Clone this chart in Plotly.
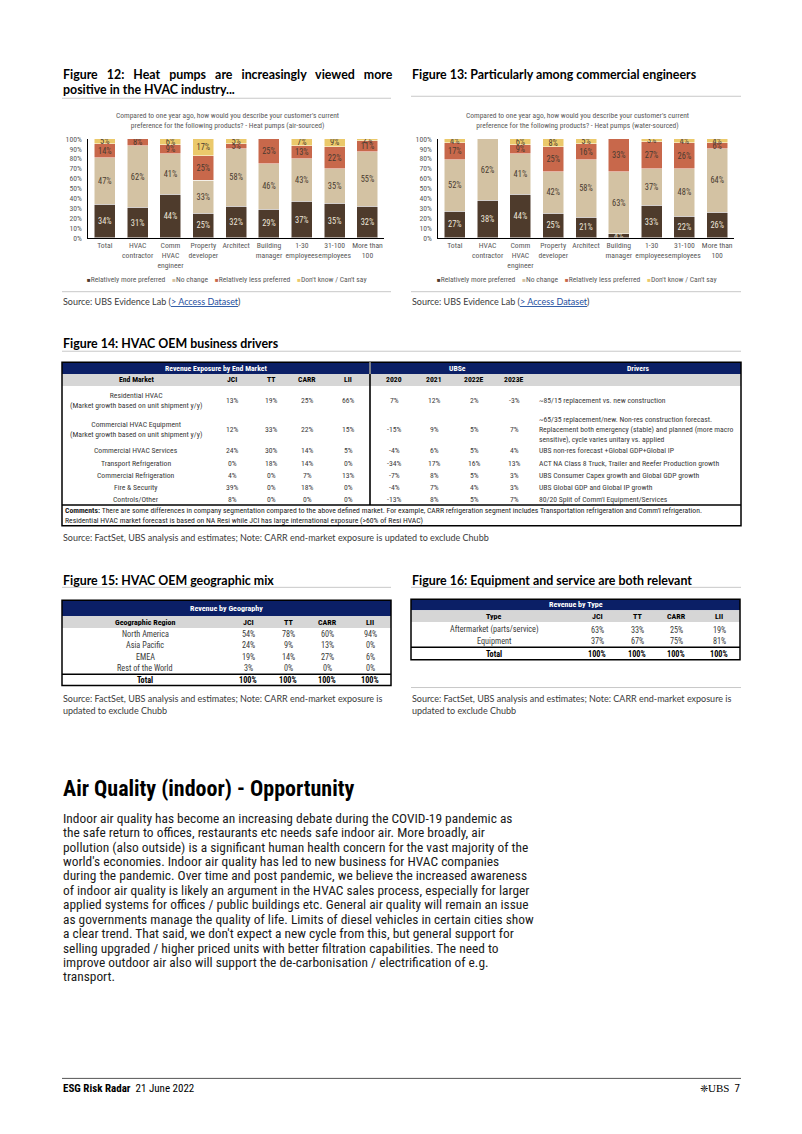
import plotly.graph_objects as go

W, H = 802, 1134

# ---------------- DATA ----------------
categories = ["Total", "HVAC<br>contractor", "Comm<br>HVAC<br>engineer", "Property<br>developer",
              "Architect", "Building<br>manager", "1-30<br>employees", "31-100<br>employees",
              "More than<br>100"]
series_names = ["Relatively more preferred", "No change", "Relatively less preferred",
                "Don't know / Can't say"]

air_more = [34, 31, 44, 25, 32, 29, 37, 35, 32]
air_nochange = [47, 62, 41, 33, 58, 46, 43, 35, 55]
air_less = [14, 8, 9, 25, 5, 25, 13, 22, 11]
air_dk = [5, 0, 6, 17, 5, 0, 7, 9, 2]

water_more = [27, 38, 44, 25, 21, 4, 33, 22, 26]
water_nochange = [52, 62, 41, 42, 58, 63, 37, 48, 64]
water_less = [17, 0, 9, 25, 16, 33, 27, 26, 6]
water_dk = [4, 0, 6, 8, 5, 0, 3, 4, 4]

y_ticks = [0, 10, 20, 30, 40, 50, 60, 70, 80, 90, 100]

end_markets = ["Residential HVAC<br>(Market growth based on unit shipment y/y)",
               "Commercial HVAC Equipment<br>(Market growth based on unit shipment y/y)",
               "Commercial HVAC Services", "Transport Refrigeration",
               "Commercial Refrigeration", "Fire & Security", "Controls/Other"]
exp_jci = [13, 12, 24, 0, 4, 39, 8]
exp_tt = [19, 33, 30, 18, 0, 0, 0]
exp_carr = [25, 22, 14, 14, 7, 18, 0]
exp_lii = [66, 15, 5, 0, 13, 0, 0]
g2020 = [7, -15, -4, -34, -7, -4, -13]
g2021 = [12, 9, 6, 17, 8, 7, 8]
g2022e = [2, 5, 5, 16, 5, 4, 5]
g2023e = [-3, 7, 4, 13, 3, 3, 7]
drivers = ["~85/15 replacement vs. new construction",
           "~65/35 replacement/new. Non-res construction forecast.<br>Replacement both emergency (stable) and planned (more macro<br>sensitive), cycle varies unitary vs. applied",
           "UBS non-res forecast +Global GDP+Global IP",
           "ACT NA Class 8 Truck, Trailer and Reefer Production growth",
           "UBS Consumer Capex growth and Global GDP growth",
           "UBS Global GDP and Global IP growth",
           "80/20 Split of Comm'l Equipment/Services"]
t14_headers = ["End Market", "JCI", "TT", "CARR", "LII", "2020", "2021", "2022E", "2023E"]

companies = ["JCI", "TT", "CARR", "LII"]
geo_regions = ["North America", "Asia Pacific", "EMEA", "Rest of the World"]
geo_jci = [54, 24, 19, 3]
geo_tt = [78, 9, 14, 0]
geo_carr = [60, 13, 27, 0]
geo_lii = [94, 0, 6, 0]
geo_total = [100, 100, 100, 100]

rev_types = ["Aftermarket (parts/service)", "Equipment"]
type_jci = [63, 37]
type_tt = [33, 67]
type_carr = [25, 75]
type_lii = [19, 81]
type_total = [100, 100, 100, 100]

body_lines = [
    "Indoor air quality has become an increasing debate during the COVID-19 pandemic as",
    "the safe return to offices, restaurants etc needs safe indoor air. More broadly, air",
    "pollution (also outside) is a significant human health concern for the vast majority of the",
    "world's economies. Indoor air quality has led to new business for HVAC companies",
    "during the pandemic. Over time and post pandemic, we believe the increased awareness",
    "of indoor air quality is likely an argument in the HVAC sales process, especially for larger",
    "applied systems for offices / public buildings etc. General air quality will remain an issue",
    "as governments manage the quality of life. Limits of diesel vehicles in certain cities show",
    "a clear trend. That said, we don't expect a new cycle from this, but general support for",
    "selling upgraded / higher priced units with better filtration capabilities. The need to",
    "improve outdoor air also will support the de-carbonisation / electrification of e.g.",
    "transport.",
]

# ---------------- STYLE ----------------
FONT = "Liberation Sans Narrow, Roboto Condensed, Lato, sans-serif"
FONT_T = "Lato, Open Sans, sans-serif"
COLORS = ["#4E3B2C", "#D3C2A3", "#C8684B", "#EBC96B"]
TXT_COL = ["#EDE6DA", "#4A3B30", "#4A3B30", "#4A3B30"]
NAVY = "#0B1F66"
GRAY_HDR = "#D6D6D6"
RULE = "#C8C8C8"
TXT = "#3A3A3A"
TS = 7.7  # table font size


def X(px):
    return px / W


def Y(py):
    return 1 - py / H


shapes = []
annotations = []


def line(x0, y0, x1, y1, color="#000", width=1):
    shapes.append(dict(type="line", xref="paper", yref="paper", x0=X(x0), y0=Y(y0),
                       x1=X(x1), y1=Y(y1), line=dict(color=color, width=width)))


def rect(x0, y0, x1, y1, fill, lc=None, lw=0):
    shapes.append(dict(type="rect", xref="paper", yref="paper", x0=X(x0), y0=Y(y0),
                       x1=X(x1), y1=Y(y1), fillcolor=fill, layer="below",
                       line=dict(color=lc or fill, width=lw)))


def text(x, y, s, size, color=TXT, bold=False, xanchor="left", family=FONT, align="left"):
    if bold:
        s = "<b>" + s + "</b>"
    annotations.append(dict(xref="paper", yref="paper", x=X(x), y=Y(y), text=s,
                            showarrow=False, xanchor=xanchor, yanchor="middle", align=align,
                            font=dict(size=size, color=color, family=family), borderpad=0))


def pct(v):
    return f"{v}%"


fig = go.Figure()

# ---------------- BAR CHARTS ----------------
chart_defs = [
    ("x", "y", [air_more, air_nochange, air_less, air_dk], 227,
     "Compared to one year ago, how would you describe your customer's current<br>preference for the following products? - Heat pumps (air-sourced)"),
    ("x2", "y2", [water_more, water_nochange, water_less, water_dk], 577,
     "Compared to one year ago, how would you describe your customer's current<br>preference for the following products? - Heat pumps (water-sourced)"),
]
for xa, ya, series, cx, subtitle in chart_defs:
    for name, vals, col, tcol in zip(series_names, series, COLORS, TXT_COL):
        fig.add_trace(go.Bar(
            x=categories, y=vals, name=name, xaxis=xa, yaxis=ya, showlegend=False,
            marker=dict(color=col, line=dict(color="white", width=0.5)),
            text=[pct(v) if v else "" for v in vals], textposition="inside",
            insidetextanchor="middle", textangle=0, constraintext="none",
            textfont=dict(size=8.4, color=tcol, family=FONT), hoverinfo="skip"))
    dk = series[3]
    for c, v in zip(categories, dk):
        if v == 0:
            annotations.append(dict(xref=xa, yref=ya, x=c, y=101, text=pct(v), showarrow=False,
                                    yanchor="middle", font=dict(size=8.4, color=TXT_COL[3], family=FONT)))
    text(cx, 117.5, subtitle, 7.5, color="#595959", xanchor="center", align="center")
    legend_txt = "    ".join(
        f"<span style='color:{c};font-size:6px'>■</span>{n}" for n, c in zip(series_names, COLORS))
    text(cx, 278, legend_txt, 7.6, color="#595959", xanchor="center")

axis_common = dict(showgrid=False, zeroline=False, showline=True, linecolor="#000", linewidth=1,
                   ticks="", tickfont=dict(size=7.7, color="#595959", family=FONT), fixedrange=True)
fig.update_layout(
    xaxis=dict(domain=[X(88.4), X(383.9)], anchor="y", tickangle=0, **axis_common),
    yaxis=dict(domain=[Y(235.7), Y(136)], anchor="x", range=[0, 100], tickvals=y_ticks,
               ticktext=[pct(v) for v in y_ticks], ticklabelstandoff=4, **axis_common),
    xaxis2=dict(domain=[X(438.4), X(733.6)], anchor="y2", tickangle=0, **axis_common),
    yaxis2=dict(domain=[Y(235.7), Y(136)], anchor="x2", range=[0, 100], tickvals=y_ticks,
                ticktext=[pct(v) for v in y_ticks], ticklabelstandoff=4, **axis_common),
    barmode="stack", bargap=0.36,
)

# titles and rules for figs 12/13
NB = "\u00a0" * 3
text(62, 71, NB.join(["Figure", "12:", "Heat", "pumps", "are", "increasingly", "viewed", "more"]),
     12.4, color="#000", bold=True, family=FONT_T)
text(62, 86, "positive in the HVAC industry...", 12.4, color="#000", bold=True, family=FONT_T)
line(62, 95, 391, 95, RULE, 1)
text(411, 71, "Figure 13: Particularly among commercial engineers", 12.4, color="#000", bold=True, family=FONT_T)
line(411, 93, 741, 93, RULE, 1)
src_ubs = "Source: UBS Evidence Lab (<span style='color:#1F4FA0;text-decoration:underline'>&gt; Access Dataset</span>)"
line(62, 290, 391, 290, RULE, 1)
line(411, 290, 741, 290, RULE, 1)
text(62, 300, src_ubs, 9, color=TXT, family=FONT_T)
text(411, 300, src_ubs, 9, color=TXT, family=FONT_T)

# ---------------- FIGURE 14 TABLE ----------------
text(62, 342, "Figure 14: HVAC OEM business drivers", 12.4, color="#000", bold=True, family=FONT_T)
line(62, 350, 741, 350, RULE, 1)
L14, R14, SEP = 62, 741, 370
TOP14, NAVY_B, GRAY_B = 361, 373, 385
rect(L14, TOP14, R14, NAVY_B, NAVY)
rect(L14, NAVY_B, R14, GRAY_B, GRAY_HDR)
text((L14 + SEP) / 2, (TOP14 + NAVY_B) / 2, "Revenue Exposure by End Market", TS, "white", True, "center")
text(457, (TOP14 + NAVY_B) / 2, "UBSe", TS, "white", True, "center")
text(638, (TOP14 + NAVY_B) / 2, "Drivers", TS, "white", True, "center")
col14 = [136, 232, 271, 307, 348, 394, 434, 474, 514]
for hx, h in zip(col14, t14_headers):
    text(hx, (NAVY_B + GRAY_B) / 2, h, TS, "#000", True, "center")
row_h = [29, 30, 13, 12, 12, 12, 12]
ytop = GRAY_B
for i, em in enumerate(end_markets):
    yc = ytop + row_h[i] / 2
    vals = [exp_jci[i], exp_tt[i], exp_carr[i], exp_lii[i], g2020[i], g2021[i], g2022e[i], g2023e[i]]
    text(col14[0], yc, em, TS, TXT, False, "center", align="center")
    for cxp, v in zip(col14[1:], vals):
        text(cxp, yc, pct(v), TS, TXT, False, "center")
    text(538, yc, drivers[i], TS, TXT, False, "left")
    ytop += row_h[i]
BOT_ROWS = ytop
line(SEP, TOP14, SEP, BOT_ROWS, "#000", 1.6)
line(SEP, TOP14, SEP, NAVY_B, "white", 1)
line(L14, BOT_ROWS, R14, BOT_ROWS, "#000", 1.4)
BOT14 = 526
rect(L14, TOP14, R14, BOT14, "rgba(0,0,0,0)", "#000", 1.5)
text(64, 510.5, "<b>Comments:</b> There are some differences in company segmentation compared to the above defined market. For example, CARR refrigeration segment includes Transportation refrigeration and Comm'l refrigeration.", 7.7, "#222")
text(64, 520.5, "Residential HVAC market forecast is based on NA Resi while JCI has large international exposure (&gt;60% of Resi HVAC)", 7.7, "#222")
text(62, 538, "Source: FactSet, UBS analysis and estimates; Note: CARR end-market exposure is updated to exclude Chubb", 9, TXT, family=FONT_T)


# ---------------- FIGURES 15 / 16 ----------------
def small_table(L, R, top, navy_b, gray_b, row_centers, total_line, total_c, bottom,
                title_hdr, first_hdr, labels, cols, totals):
    rect(L, top, R, navy_b, NAVY)
    rect(L, navy_b, R, gray_b, GRAY_HDR)
    text((L + R) / 2, (top + navy_b) / 2, title_hdr, 8, "white", True, "center")
    offs = [83, 186, 226, 265, 308]
    text(L + offs[0], (navy_b + gray_b) / 2, first_hdr, 8, "#000", True, "center")
    for o, c in zip(offs[1:], companies):
        text(L + o, (navy_b + gray_b) / 2, c, 8, "#000", True, "center")
    for i, lab in enumerate(labels):
        yc = row_centers[i]
        text(L + offs[0], yc, lab, 8.2, TXT, False, "center")
        for o, col in zip(offs[1:], cols):
            text(L + o, yc, pct(col[i]), 8.2, TXT, False, "center")
    line(L, total_line, R, total_line, "#000", 1.5)
    text(L + offs[0], total_c, "Total", 8.2, "#000", True, "center")
    for o, t in zip(offs[1:], totals):
        text(L + o, total_c, pct(t), 8.2, "#000", True, "center")
    rect(L, top, R, bottom, "rgba(0,0,0,0)", "#000", 1.5)


text(62, 581, "Figure 15: HVAC OEM geographic mix", 12.4, "#000", True, family=FONT_T)
line(62, 588, 391, 588, RULE, 1)
small_table(62, 391, 601, 617, 629, [635, 646.5, 658, 669], 675.5, 681.5, 687,
            "Revenue by Geography", "Geographic Region", geo_regions,
            [geo_jci, geo_tt, geo_carr, geo_lii], geo_total)
text(62, 700, "Source: FactSet, UBS analysis and estimates; Note: CARR end-market exposure is", 9, TXT, family=FONT_T)
text(62, 712, "updated to exclude Chubb", 9, TXT, family=FONT_T)

text(411, 581, "Figure 16: Equipment and service are both relevant", 12.4, "#000", True, family=FONT_T)
line(411, 588, 741, 588, RULE, 1)
small_table(411, 740, 600, 611, 623, [631, 642], 648.5, 655, 661,
            "Revenue by Type", "Type", rev_types,
            [type_jci, type_tt, type_carr, type_lii], type_total)
line(411, 689, 741, 689, RULE, 1)
text(411, 700, "Source: FactSet, UBS analysis and estimates; Note: CARR end-market exposure is", 9, TXT, family=FONT_T)
text(411, 712, "updated to exclude Chubb", 9, TXT, family=FONT_T)

# ---------------- BODY TEXT ----------------
text(62, 791, "Air Quality (indoor) - Opportunity", 22, "#000", True, family=FONT)
for i, ln in enumerate(body_lines):
    text(62, 820.7 + i * 14.55, ln, 13.4, "#1A1A1A")

# ---------------- FOOTER ----------------
line(62, 1083, 741, 1083, "#555", 1)
text(62, 1093, "<b>ESG Risk Radar</b>  21 June 2022", 11, "#000")
text(741, 1093, "<span style='font-size:10px'>❈</span><span style='font-family:Liberation Serif'>UBS</span>  7", 11, "#000", xanchor="right")

fig.update_layout(width=W, height=H, margin=dict(l=0, r=0, t=0, b=0),
                  paper_bgcolor="white", plot_bgcolor="white",
                  shapes=shapes, annotations=annotations)

fig.write_html("out.html")
